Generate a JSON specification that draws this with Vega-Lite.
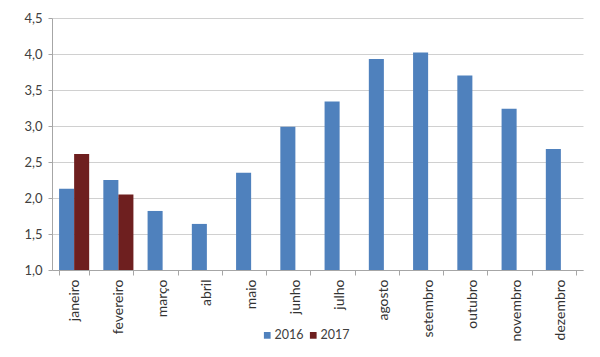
{
  "$schema": "https://vega.github.io/schema/vega-lite/v6.json",
  "width": 531,
  "height": 252,
  "autosize": {"type": "none"},
  "padding": {"left": 52, "top": 18, "right": 17, "bottom": 87},
  "background": "white",
  "data": {
    "values": [
      {"mes": "janeiro", "ano": "2016", "valor": 2.13},
      {"mes": "janeiro", "ano": "2017", "valor": 2.61},
      {"mes": "fevereiro", "ano": "2016", "valor": 2.25},
      {"mes": "fevereiro", "ano": "2017", "valor": 2.05},
      {"mes": "março", "ano": "2016", "valor": 1.82},
      {"mes": "abril", "ano": "2016", "valor": 1.64},
      {"mes": "maio", "ano": "2016", "valor": 2.35},
      {"mes": "junho", "ano": "2016", "valor": 2.99},
      {"mes": "julho", "ano": "2016", "valor": 3.34},
      {"mes": "agosto", "ano": "2016", "valor": 3.93},
      {"mes": "setembro", "ano": "2016", "valor": 4.02},
      {"mes": "outubro", "ano": "2016", "valor": 3.70},
      {"mes": "novembro", "ano": "2016", "valor": 3.24},
      {"mes": "dezembro", "ano": "2016", "valor": 2.68}
    ]
  },
  "mark": {"type": "bar", "clip": true},
  "encoding": {
    "x": {
      "field": "mes",
      "type": "nominal",
      "sort": ["janeiro","fevereiro","março","abril","maio","junho","julho","agosto","setembro","outubro","novembro","dezembro"],
      "scale": {"paddingInner": 0.32, "paddingOuter": 0.16},
      "axis": {
        "title": null,
        "labelAngle": -90,
        "labelFont": "Lato",
        "labelFontSize": 14,
        "labelColor": "#333333",
        "labelPadding": 4,
        "tickBand": "extent",
        "tickColor": "#a6a6a6",
        "tickSize": 5,
        "domainColor": "#a6a6a6",
        "grid": false
      }
    },
    "xOffset": {"field": "ano", "type": "nominal", "sort": ["2016", "2017"], "scale": {"paddingInner": 0, "paddingOuter": 0}},
    "y": {
      "field": "valor",
      "type": "quantitative",
      "scale": {"domain": [1, 4.5], "zero": false, "nice": false},
      "axis": {
        "title": null,
        "values": [1, 1.5, 2, 2.5, 3, 3.5, 4, 4.5],
        "labelExpr": "replace(format(datum.value, '.1f'), '.', ',')",
        "labelFont": "Lato",
        "labelFontSize": 13,
        "labelColor": "#404040",
        "labelPadding": 6,
        "tickColor": "#a6a6a6",
        "tickSize": 4,
        "domainColor": "#a6a6a6",
        "gridColor": "#d0d0d0",
        "gridWidth": 1
      }
    },
    "y2": {"datum": 1},
    "color": {
      "field": "ano",
      "type": "nominal",
      "scale": {"domain": ["2016", "2017"], "range": ["#4F81BD", "#6E1F1F"]},
      "legend": {
        "title": null,
        "orient": "none",
        "direction": "horizontal",
        "legendX": 209,
        "legendY": 311,
        "symbolType": "square",
        "symbolSize": 45,
        "symbolStrokeWidth": 0,
        "labelFont": "Lato",
        "labelFontSize": 12.5,
        "labelOffset": 1,
        "labelColor": "#404040",
        "columnPadding": 3
      }
    }
  },
  "config": {
    "view": {"stroke": null}
  }
}
